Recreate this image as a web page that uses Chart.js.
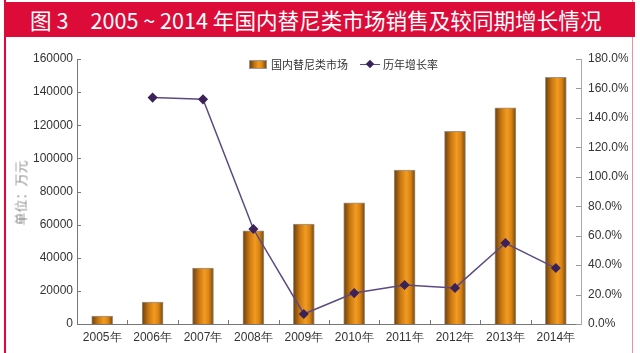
<!DOCTYPE html>
<html><head><meta charset="utf-8">
<script src="https://cdn.jsdelivr.net/npm/chart.js@4.4.1/dist/chart.umd.min.js"></script>
<style>
html,body{margin:0;padding:0;background:#fff;}
#wrap{position:relative;width:640px;height:353px;overflow:hidden;background:#fff;font-family:"Noto Sans CJK SC","Liberation Sans",sans-serif;}
#frame{position:absolute;left:4px;top:0;width:629px;height:353px;border-left:2px solid #e2063a;border-right:1px solid #e98fa0;box-sizing:border-box;}
#titlebar{position:absolute;left:4px;top:2px;width:631px;height:35px;background:#dc0b38;color:#fff;font-size:21.6px;line-height:35px;white-space:nowrap;padding-left:26px;box-sizing:border-box;}
#titlebar .t2{margin-left:22px;}
#ytitle{position:absolute;left:20px;top:193px;transform:translate(-50%,-50%) rotate(-90deg);font-size:13px;font-weight:300;color:#555;white-space:nowrap;}
#legend{position:absolute;top:54px;left:249px;font-size:11px;color:#333;white-space:nowrap;line-height:16px;}
#legend span{display:inline-block;vertical-align:middle;}
.lbox{width:18px;height:9px;background:linear-gradient(90deg,#6e410f,#c97710 30%,#f29a20 55%,#d98514 75%,#7a4a12);border:1px solid #999;box-sizing:border-box;margin-right:4px;}
.lline{position:relative;width:20px;height:9px;margin-left:12px;margin-right:3px;}
.lline:before{content:"";position:absolute;left:0;right:0;top:4px;height:1.5px;background:#5b4a82;}
.lline:after{content:"";position:absolute;left:7px;top:1.5px;width:6px;height:6px;background:#3b2359;transform:rotate(45deg);}
canvas{position:absolute;left:0;top:0;}
</style></head>
<body>
<div id="wrap">
<div id="frame"></div>
<div id="titlebar"><span>图 3</span><span class="t2">2005 ~ 2014 年国内替尼类市场销售及较同期增长情况</span></div>
<canvas id="c" width="640" height="353"></canvas>
<div id="ytitle">单位：万元</div>
<div id="legend"><span class="lbox"></span><span>国内替尼类市场</span><span class="lline"></span><span>历年增长率</span></div>
</div>
<script>
const categories = ["2005年","2006年","2007年","2008年","2009年","2010年","2011年","2012年","2013年","2014年"];
const marketSales = [4800, 13300, 33800, 56200, 60400, 73100, 93000, 116400, 130500, 149000];
const growthRate = [null, 153.8, 152.6, 64.5, 6.8, 21.0, 26.5, 24.5, 55.0, 38.0];
const leftTicks = [0,20000,40000,60000,80000,100000,120000,140000,160000];
const rightTicks = [0,20,40,60,80,100,120,140,160,180];

const BAR_W = 21;
function barGradient(ctx){
  const chart = ctx.chart;
  const xs = chart.scales && chart.scales.x;
  if(!xs || ctx.dataIndex === undefined) return '#e08a18';
  const cx = xs.getPixelForValue(ctx.dataIndex);
  if(!isFinite(cx)) return '#e08a18';
  const g = chart.ctx.createLinearGradient(cx - BAR_W/2, 0, cx + BAR_W/2, 0);
  g.addColorStop(0, '#6a3e0e');
  g.addColorStop(0.3, '#c87610');
  g.addColorStop(0.58, '#f39b21');
  g.addColorStop(0.78, '#d88414');
  g.addColorStop(1, '#75460f');
  return g;
}

const innerTicks = {
  id:'innerTicks',
  afterDraw(chart){
    const c = chart.ctx, a = chart.chartArea;
    c.save();
    c.lineWidth = 1;
    const yl = chart.scales.y, yr = chart.scales.y1;
    c.strokeStyle = '#777';
    yl.ticks.forEach((t,i)=>{const y=Math.round(yl.getPixelForTick(i))+0.5;c.beginPath();c.moveTo(a.left,y);c.lineTo(a.left+4,y);c.stroke();});
    c.strokeStyle = '#999';
    yr.ticks.forEach((t,i)=>{const y=Math.round(yr.getPixelForTick(i))+0.5;c.beginPath();c.moveTo(a.right-5,y);c.lineTo(a.right,y);c.stroke();});
    c.strokeStyle = '#777';
    const n = categories.length, w = (a.right-a.left)/n;
    for(let i=1;i<n;i++){const x=Math.round(a.left+i*w)+0.5;c.beginPath();c.moveTo(x,a.bottom);c.lineTo(x,a.bottom-4);c.stroke();}
    c.restore();
  }
};

new Chart(document.getElementById('c'), {
  data:{
    labels: categories,
    datasets:[
      {type:'line', label:'历年增长率', data: growthRate, yAxisID:'y1', borderColor:'#5b4a82', borderWidth:1.5,
       pointStyle:'rectRot', pointRadius:4, pointBackgroundColor:'#3b2359', pointBorderColor:'#3b2359', tension:0, spanGaps:false, order:0},
      {type:'bar', label:'国内替尼类市场', data: marketSales, yAxisID:'y', backgroundColor: barGradient,
       borderColor:'#9c9488', borderWidth:1, barThickness: BAR_W, order:1}
    ]
  },
  options:{
    responsive:false, animation:false,
    layout:{padding:{left:8, right:12, top:59, bottom:0}},
    plugins:{legend:{display:false}, tooltip:{enabled:false}},
    scales:{
      x:{offset:true, grid:{display:false, drawTicks:false}, border:{display:true,color:'#777'},
         ticks:{color:'#333', font:{family:'"Liberation Sans", sans-serif', size:12}, padding:6, maxRotation:0, autoSkip:false},
         afterFit(s){s.height = 29;}},
      y:{position:'left', min:0, max:160000, grid:{display:false, drawTicks:false}, border:{display:true,color:'#777'},
         afterBuildTicks(s){s.ticks = leftTicks.map(v=>({value:v}));},
         ticks:{color:'#333', font:{family:'"Liberation Sans", sans-serif', size:12}, padding:4, callback:v=>String(v)},
         afterFit(s){s.width = 69;}},
      y1:{position:'right', min:0, max:180, grid:{display:false, drawTicks:false}, border:{display:true,color:'#aaa'},
         afterBuildTicks(s){s.ticks = rightTicks.map(v=>({value:v}));},
         ticks:{color:'#333', font:{family:'"Liberation Sans", sans-serif', size:12}, padding:7, callback:v=>v.toFixed(1)+'%'},
         afterFit(s){s.width = 47;}}
    }
  },
  plugins:[innerTicks]
});
</script>
</body></html>
